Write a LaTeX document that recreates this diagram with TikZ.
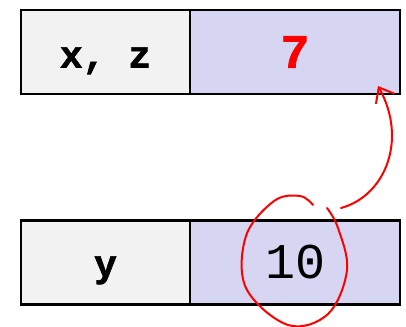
\documentclass[tikz,border=0pt]{standalone}
\usepackage{fontspec}
\setmonofont{Liberation Mono}
\newfontfamily\heavytt[FakeBold=1.6]{Liberation Mono Bold}
\usetikzlibrary{arrows.meta}
\definecolor{namegray}{RGB}{242,242,242}
\definecolor{valblue}{RGB}{214,214,242}
\tikzset{
  namecell/.style={draw=black, line width=2.4pt, fill=namegray, minimum width=169pt, minimum height=84pt,
    inner sep=0pt, text height=31pt, text depth=0pt, font=\fontsize{38}{38}\selectfont\heavytt},
  valcell/.style={draw=black, line width=2.4pt, fill=valblue, minimum width=210pt, minimum height=84pt,
    inner sep=0pt},
  ink/.style={red, line width=2pt, line cap=round, line join=round}
}

\begin{document}
\begin{tikzpicture}[x=1pt, y=-1pt]
        \useasboundingbox (0,0) rectangle (406,326);
        % top row
        \node[namecell] (xz) at (105.5,52) {x, z};
        \node[valcell, font=\fontsize{48}{48}\selectfont\heavytt, text=red] (seven) at (295,52) {7};
        % bottom row
        \node[namecell, text height=28pt] (y) at (105.5,262.5) {y};
        \node[valcell, font=\fontsize{50}{50}\selectfont\ttfamily] (ten) at (295,262.5) {10};
        % hand drawn annotation
        \draw[ink] plot[smooth, tension=0.6] coordinates {(313,205) (300,196) (274,201) (246,236) (246,288) (288,325) (328,314) (347,270) (338,228) (327,208)};
        \coordinate (loop) at (341,208);
        \coordinate (tip) at (378,86);
        \draw[ink, -{Straight Barb[length=13pt, width=21pt]}] (loop) .. controls (385,196) and (408,140) .. (tip);
    \end{tikzpicture}
\end{document}
